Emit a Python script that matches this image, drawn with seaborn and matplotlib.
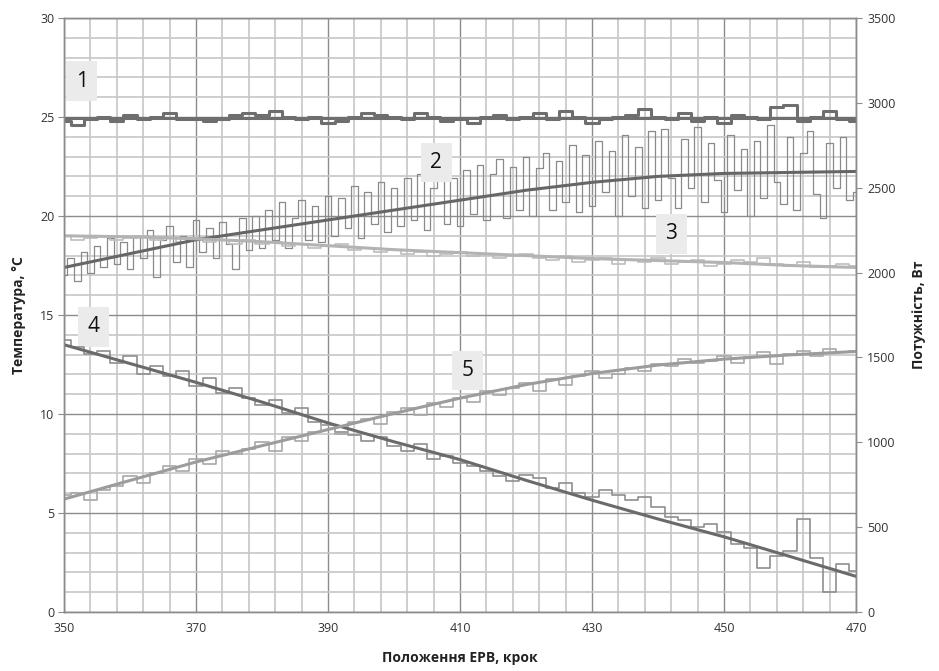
import numpy as np
import pandas as pd
import matplotlib
matplotlib.use("Agg")
import matplotlib.pyplot as plt
import seaborn as sns

sns.set_style("white")
plt.rcParams['font.family'] = ['Open Sans', 'DejaVu Sans']

# ---------------- data ----------------
x_fine = list(range(350, 471))          # every step
x_half = list(range(350, 471, 2))       # every 2 steps
x_trend = list(range(350, 471, 10))     # trend key points

# series 1 (temperature, °C)
s1 = [24.8, 24.6, 24.9, 25.0, 24.8, 25.1, 24.9, 25.0, 25.2, 24.9,
      24.9, 24.8, 24.9, 25.1, 25.2, 25.1, 25.3, 25.0, 24.9, 25.0,
      24.7, 24.8, 25.0, 25.2, 25.1, 25.0, 24.9, 25.2, 25.0, 24.8,
      24.9, 24.7, 25.0, 25.1, 24.9, 25.0, 25.2, 24.9, 25.3, 25.0,
      24.7, 24.9, 25.0, 25.1, 25.4, 25.0, 24.9, 25.2, 24.8, 25.0,
      24.7, 25.1, 25.0, 24.9, 25.5, 25.6, 24.8, 25.0, 25.3, 24.9, 24.8]
t1 = [24.95, 24.95, 24.95, 24.95, 24.95, 24.95, 24.95, 24.95, 24.95, 24.95, 24.95, 24.95, 24.95]

# series 2 (temperature, °C)
s2 = [17.0, 17.9, 16.7, 18.2, 17.1, 18.5, 17.4, 18.9, 17.6, 18.7,
      17.3, 19.0, 17.9, 19.3, 16.9, 18.8, 19.5, 17.7, 19.0, 17.4,
      19.8, 18.2, 19.4, 17.9, 19.7, 18.6, 17.3, 19.9, 18.3, 20.0,
      18.4, 20.3, 18.8, 20.7, 18.4, 19.9, 20.8, 18.8, 20.5, 18.7,
      21.0, 19.0, 20.9, 19.4, 21.5, 18.9, 21.2, 19.6, 21.7, 19.2,
      21.4, 19.5, 21.9, 19.8, 22.1, 19.3, 21.4, 22.3, 19.6, 21.9,
      19.5, 22.3, 20.1, 22.6, 19.8, 22.1, 22.9, 19.9, 22.5, 20.3,
      23.0, 20.0, 22.4, 23.2, 20.3, 22.8, 20.7, 23.6, 20.2, 23.1,
      20.5, 23.8, 21.2, 23.3, 20.0, 24.1, 21.0, 23.5, 20.4, 24.3,
      20.8, 24.4, 21.9, 20.4, 23.9, 21.4, 24.5, 20.7, 23.7, 21.8,
      20.2, 24.1, 21.3, 23.4, 20.0, 23.8, 20.9, 24.6, 21.7, 20.6,
      24.0, 20.3, 23.2, 24.3, 21.1, 19.9, 23.7, 21.4, 24.0, 20.8,
      21.2]
t2 = [17.4, 18.1, 18.8, 19.3, 19.8, 20.3, 20.8, 21.3, 21.7, 22.0, 22.15, 22.2, 22.25]

# series 3 (temperature, °C)
s3 = [19.0, 18.8, 18.9, 19.0, 18.8, 18.9, 19.0, 18.8, 18.9, 18.7,
      18.9, 18.7, 18.8, 18.6, 18.8, 18.6, 18.7, 18.5, 18.6, 18.4,
      18.5, 18.6, 18.3, 18.4, 18.2, 18.3, 18.1, 18.2, 18.0, 18.1,
      18.2, 18.0, 18.1, 17.9, 18.0, 18.1, 17.9, 17.8, 18.0, 17.7,
      17.8, 17.9, 17.6, 17.8, 17.7, 17.9, 17.6, 17.7, 17.8, 17.5,
      17.6, 17.8, 17.7, 17.9, 17.6, 17.5, 17.7, 17.4, 17.5, 17.6, 17.5]
t3 = [19.0, 18.95, 18.85, 18.7, 18.5, 18.3, 18.15, 18.0, 17.85, 17.75, 17.65, 17.5, 17.4]

# series 4 (power, W)
s4 = [1600, 1560, 1520, 1540, 1470, 1510, 1400, 1450, 1390, 1420,
      1330, 1380, 1290, 1320, 1260, 1220, 1250, 1170, 1200, 1120,
      1100, 1060, 1040, 1010, 1030, 980, 950, 990, 900, 920,
      880, 860, 830, 800, 770, 810, 790, 730, 760, 700,
      680, 720, 690, 660, 680, 620, 560, 540, 500, 520,
      470, 400, 380, 260, 330, 360, 550, 320, 120, 280, 240]
t4 = [1575, 1464, 1353, 1237, 1114, 1003, 898, 776, 659, 548, 443, 327, 210]

# series 5 (power, W)
s5 = [690, 700, 660, 720, 740, 800, 760, 820, 860, 830,
      900, 870, 950, 930, 960, 1000, 950, 1030, 1010, 1060,
      1100, 1050, 1120, 1140, 1110, 1180, 1200, 1160, 1230, 1210,
      1260, 1240, 1300, 1280, 1320, 1350, 1300, 1370, 1340, 1390,
      1420, 1380, 1400, 1440, 1420, 1460, 1450, 1490, 1470, 1480,
      1510, 1470, 1500, 1530, 1460, 1520, 1540, 1510, 1550, 1530, 1540]
t5 = [665, 775, 884, 980, 1075, 1170, 1260, 1340, 1405, 1455, 1490, 1515, 1535]

series_labels = ["1", "2", "3", "4", "5"]
label_pos_x = [352.7, 406.4, 442.0, 354.5, 411.1]
label_pos_y = [26.8, 22.7, 19.1, 14.4, 12.2]

# ---------------- figure ----------------
fig = plt.figure(figsize=(9.39, 6.71), dpi=100)
ax = fig.add_axes([64/939, 59/671, 792/939, 594/671])
ax2 = ax.twinx()

# grid
minor_c = "#c6c6c6"
major_c = "#8c8c8c"
ax.grid(True, which="minor", color=minor_c, lw=1.2)
ax.grid(True, which="major", color=major_c, lw=1.0)
ax.set_axisbelow(True)
for a in (ax, ax2):
    for sp in a.spines.values():
        sp.set_color(major_c)
        sp.set_linewidth(1.0)

def df(xs, ys):
    return pd.DataFrame({"x": xs, "y": ys})

# noisy series
sns.lineplot(data=df(x_half, s1), x="x", y="y", ax=ax, color="#6e6e6e", lw=2.2,
             drawstyle="steps-mid", estimator=None, sort=False)
sns.lineplot(data=df(x_fine, s2), x="x", y="y", ax=ax, color="#8a8a8a", lw=0.9,
             drawstyle="steps-mid", estimator=None, sort=False)
sns.lineplot(data=df(x_half, s3), x="x", y="y", ax=ax, color="#bdbdbd", lw=1.2,
             drawstyle="steps-mid", estimator=None, sort=False)
sns.lineplot(data=df(x_half, s4), x="x", y="y", ax=ax2, color="#8f8f8f", lw=1.2,
             drawstyle="steps-mid", estimator=None, sort=False)
sns.lineplot(data=df(x_half, s5), x="x", y="y", ax=ax2, color="#a8a8a8", lw=1.2,
             drawstyle="steps-mid", estimator=None, sort=False)

# trend lines
sns.lineplot(data=df(x_trend, t1), x="x", y="y", ax=ax, color="#6e6e6e", lw=2.2, estimator=None)
sns.lineplot(data=df(x_trend, t2), x="x", y="y", ax=ax, color="#666666", lw=2.2, estimator=None)
sns.lineplot(data=df(x_trend, t3), x="x", y="y", ax=ax, color="#b3b3b3", lw=2.2, estimator=None)
sns.lineplot(data=df(x_trend, t4), x="x", y="y", ax=ax2, color="#6a6a6a", lw=2.2, estimator=None)
sns.lineplot(data=df(x_trend, t5), x="x", y="y", ax=ax2, color="#9c9c9c", lw=2.2, estimator=None)

ax.set_xlim(350, 470)
ax.set_ylim(0, 30)
ax2.set_ylim(0, 3500)
ax.set_xticks(list(range(350, 471, 20)))
ax.set_xticks(list(range(350, 471, 4)), minor=True)
ax.set_yticks(list(range(0, 31, 5)))
ax.set_yticks(list(range(0, 31, 1)), minor=True)
ax2.set_yticks(list(range(0, 3501, 500)))
ax.tick_params(which="minor", length=0)
ax.tick_params(which="major", length=4, color=major_c, labelsize=9,
               labelcolor="#333333", pad=3)
ax2.tick_params(length=4, color=major_c, labelsize=9, labelcolor="#333333", pad=4)

# labels
for lab, lx, ly in zip(series_labels, label_pos_x, label_pos_y):
    ax.text(lx, ly, lab, fontsize=15, color="#111111", ha="center", va="center",
            zorder=10,
            bbox=dict(boxstyle="square,pad=0.45", facecolor="#ebebeb", edgecolor="none"))

ax.set_xlabel("Положення ЕРВ, крок", fontsize=10, fontweight="bold",
              color="#222222", labelpad=12)
ax.set_ylabel("Температура, °C", fontsize=10, fontweight="bold",
              color="#222222", labelpad=10)
ax2.set_ylabel("Потужність, Вт", fontsize=10, fontweight="bold",
               color="#222222", labelpad=12)

fig.savefig("out.png", dpi=100)
